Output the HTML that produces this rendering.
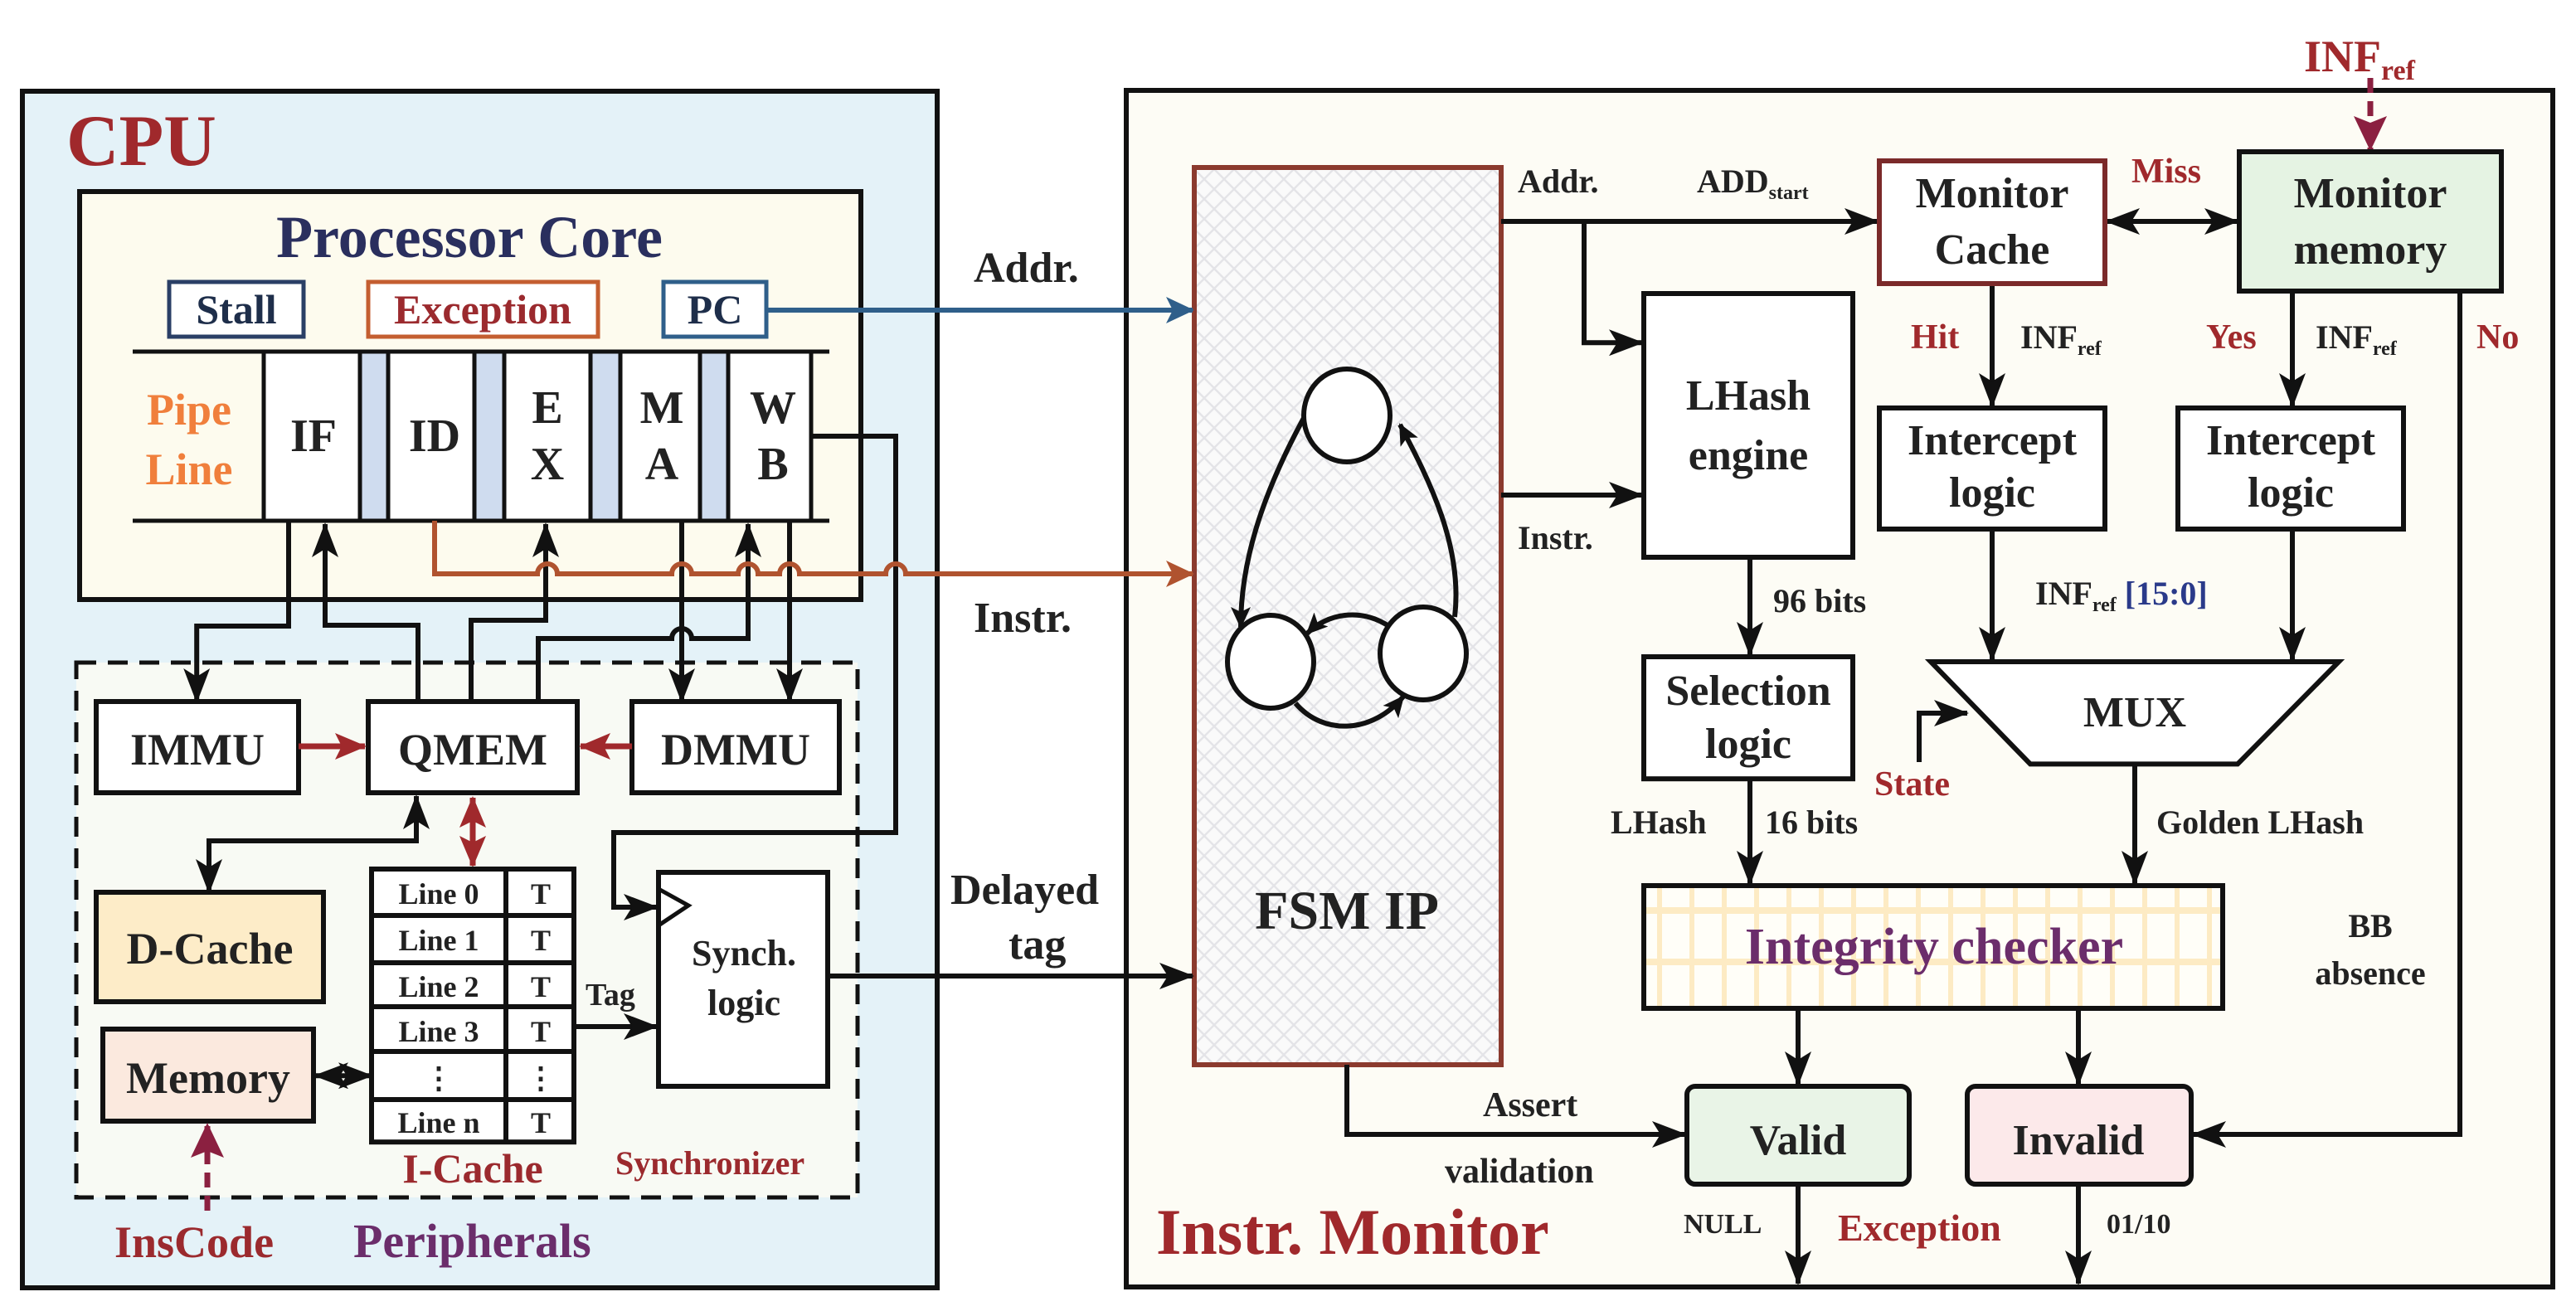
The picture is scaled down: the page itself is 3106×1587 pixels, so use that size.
<!DOCTYPE html>
<html><head><meta charset="utf-8"><style>
html,body{margin:0;padding:0;background:#fff;}
svg{display:block;}
text{font-family:"Liberation Serif",serif;font-weight:bold;}
</style></head><body>
<svg width="3106" height="1587" viewBox="0 0 1553 793.5" xmlns="http://www.w3.org/2000/svg">
<defs>
<marker id="a" markerUnits="userSpaceOnUse" markerWidth="22" markerHeight="16" refX="20" refY="8" orient="auto"><path d="M0,0 L21,8 L0,16 L5,8 Z" fill="#111"/></marker>
<marker id="as" markerUnits="userSpaceOnUse" markerWidth="22" markerHeight="16" refX="1" refY="8" orient="auto"><path d="M21,0 L0,8 L21,16 L16,8 Z" fill="#111"/></marker>
<marker id="ar" markerUnits="userSpaceOnUse" markerWidth="20" markerHeight="16" refX="18" refY="8" orient="auto"><path d="M0,0 L19,8 L0,16 L4,8 Z" fill="#a0292c"/></marker>
<marker id="ars" markerUnits="userSpaceOnUse" markerWidth="20" markerHeight="16" refX="1" refY="8" orient="auto"><path d="M19,0 L0,8 L19,16 L15,8 Z" fill="#a0292c"/></marker>
<marker id="ab" markerUnits="userSpaceOnUse" markerWidth="18" markerHeight="16" refX="16" refY="8" orient="auto"><path d="M0,0 L17,8 L0,16 L4,8 Z" fill="#2f5f8a"/></marker>
<marker id="ao" markerUnits="userSpaceOnUse" markerWidth="18" markerHeight="16" refX="16" refY="8" orient="auto"><path d="M0,0 L17,8 L0,16 L4,8 Z" fill="#b0532f"/></marker>
<marker id="ap" markerUnits="userSpaceOnUse" markerWidth="22" markerHeight="20" refX="20" refY="10" orient="auto"><path d="M0,0 L21,10 L0,20 L4,10 Z" fill="#8b2040"/></marker>
<marker id="sm" markerUnits="userSpaceOnUse" markerWidth="14" markerHeight="12" refX="12" refY="6" orient="auto"><path d="M0,0 L13,6 L0,12 L3,6 Z" fill="#111"/></marker>
<pattern id="hatch" width="12" height="12" patternUnits="userSpaceOnUse"><rect width="12" height="12" fill="#fafafa"/><path d="M0,6 L6,0 L12,6 L6,12 Z" fill="none" stroke="#e4e4e8" stroke-width="1.2"/></pattern>
<pattern id="grid" width="19.5" height="31" patternUnits="userSpaceOnUse" x="991" y="534"><rect width="19.5" height="31" fill="#fffef8"/><rect x="8" width="3" height="31" fill="#fdebc4"/><rect y="13" width="19.5" height="4" fill="#fdebc4"/></pattern>
</defs>

<!-- CPU -->
<rect x="13.5" y="55" width="551.5" height="721.5" fill="#e4f2f8" stroke="#111" stroke-width="3"/>
<text x="40" y="99.5" font-size="44" fill="#a0292c">CPU</text>
<rect x="48" y="115.5" width="471" height="246" fill="#fdfbee" stroke="#111" stroke-width="3"/>
<text x="283" y="155" font-size="36" fill="#2a2f5e" text-anchor="middle">Processor Core</text>
<rect x="102" y="170" width="81" height="33" fill="#fff" stroke="#2a3f66" stroke-width="2.5"/>
<text x="142.5" y="195" font-size="25" fill="#1e2e4a" text-anchor="middle">Stall</text>
<rect x="222" y="170" width="138.5" height="33" fill="#fff" stroke="#c45e30" stroke-width="2.5"/>
<text x="291" y="195" font-size="25" fill="#9b2a2e" text-anchor="middle">Exception</text>
<rect x="400" y="170" width="62" height="33" fill="#fff" stroke="#2f5f8a" stroke-width="2.5"/>
<text x="431" y="195" font-size="25" fill="#1e2e4a" text-anchor="middle">PC</text>

<!-- pipeline -->
<g stroke="#111" stroke-width="2.5">
<rect x="159" y="212" width="58" height="102" fill="#fff"/>
<rect x="217" y="212" width="17" height="102" fill="#cfdcef"/>
<rect x="234" y="212" width="52" height="102" fill="#fff"/>
<rect x="286" y="212" width="18" height="102" fill="#cfdcef"/>
<rect x="304" y="212" width="52" height="102" fill="#fff"/>
<rect x="356" y="212" width="18" height="102" fill="#cfdcef"/>
<rect x="374" y="212" width="48" height="102" fill="#fff"/>
<rect x="422" y="212" width="17" height="102" fill="#cfdcef"/>
<rect x="439" y="212" width="50" height="102" fill="#fff"/>
<line x1="80" y1="212" x2="500" y2="212"/>
<line x1="80" y1="314" x2="500" y2="314"/>
</g>
<text x="114" y="256" font-size="27" fill="#f07f3c" text-anchor="middle">Pipe</text>
<text x="114" y="292" font-size="27" fill="#f07f3c" text-anchor="middle">Line</text>
<g font-size="28" fill="#222" text-anchor="middle">
<text x="189" y="272">IF</text><text x="262" y="272">ID</text>
<text x="330" y="255">E</text><text x="330" y="289">X</text>
<text x="399" y="255">M</text><text x="399" y="289">A</text>
<text x="466" y="255">W</text><text x="466" y="289">B</text>
</g>

<!-- peripherals -->
<rect x="46" y="399.5" width="471" height="322.5" fill="#f8faf4" stroke="#111" stroke-width="2.5" stroke-dasharray="12,7"/>

<g fill="none" stroke="#111" stroke-width="3">
<path d="M174,314 V377.5 H118.6 V423" marker-end="url(#a)"/>
<path d="M252,423 V377 H196 V316" marker-end="url(#a)"/>
<path d="M284,423 V374 H329 V316" marker-end="url(#a)"/>
<path d="M324.5,423 V385 H405 a6,6 0 0 1 12,0 H451 V316" marker-end="url(#a)"/>
<path d="M411,314 V423" marker-end="url(#a)"/>
<path d="M476,314 V423" marker-end="url(#a)"/>
<path d="M489,263 H540 V502 H370 V547 H396" marker-end="url(#a)"/>
</g>

<g stroke="#111" stroke-width="3" fill="#fff">
<rect x="58" y="423" width="122" height="55"/>
<rect x="222" y="423" width="126" height="55"/>
<rect x="381" y="423" width="125" height="55"/>
<rect x="58" y="538" width="137" height="66" fill="#fdecc8"/>
<rect x="62" y="620.5" width="127" height="55.5" fill="#fbe9de"/>
<rect x="397" y="526" width="102" height="129"/>
</g>
<g font-size="27" fill="#222" text-anchor="middle">
<text x="119" y="461">IMMU</text><text x="285" y="461">QMEM</text><text x="443.5" y="461">DMMU</text>
<text x="126.5" y="581">D-Cache</text><text x="125.5" y="659">Memory</text>
</g>
<path d="M397,536 L415,546 L397,558" fill="none" stroke="#111" stroke-width="2.5"/>
<text x="448.5" y="582" font-size="22" fill="#222" text-anchor="middle">Synch.</text>
<text x="448.5" y="612" font-size="22" fill="#222" text-anchor="middle">logic</text>
<g stroke="#a0292c" stroke-width="3.5">
<line x1="180" y1="450" x2="220" y2="450" marker-end="url(#ar)"/>
<line x1="381" y1="450" x2="350" y2="450" marker-end="url(#ar)"/>
<line x1="285" y1="481" x2="285" y2="522" marker-start="url(#ars)" marker-end="url(#ar)"/>
</g>
<path d="M126,538 V507 H251 V480" fill="none" stroke="#111" stroke-width="3" marker-start="url(#as)" marker-end="url(#a)"/>
<line x1="190" y1="648.6" x2="224" y2="648.6" stroke="#111" stroke-width="3" marker-start="url(#as)" marker-end="url(#a)"/>
<line x1="125" y1="730" x2="125" y2="678" stroke="#8b2040" stroke-width="3.5" stroke-dasharray="9,5" marker-end="url(#ap)"/>

<!-- I-Cache -->
<g stroke="#111" stroke-width="3" fill="#fff">
<rect x="224" y="524" width="122" height="164.6"/>
<line x1="305" y1="524" x2="305" y2="688.6"/>
<line x1="224" y1="552" x2="346" y2="552"/><line x1="224" y1="580.5" x2="346" y2="580.5"/>
<line x1="224" y1="607" x2="346" y2="607"/><line x1="224" y1="634" x2="346" y2="634"/>
<line x1="224" y1="663" x2="346" y2="663"/>
</g>
<g font-size="18" fill="#222" text-anchor="middle">
<text x="264.5" y="545">Line 0</text><text x="326" y="545">T</text>
<text x="264.5" y="573">Line 1</text><text x="326" y="573">T</text>
<text x="264.5" y="601">Line 2</text><text x="326" y="601">T</text>
<text x="264.5" y="628">Line 3</text><text x="326" y="628">T</text>
<text x="264.5" y="656">⋮</text><text x="326" y="656">⋮</text>
<text x="264.5" y="683">Line n</text><text x="326" y="683">T</text>
</g>
<line x1="346" y1="619" x2="396" y2="619" stroke="#111" stroke-width="3" marker-end="url(#a)"/>
<text x="353" y="606" font-size="19" fill="#222">Tag</text>
<text x="285" y="713" font-size="25" fill="#9b2a2e" text-anchor="middle">I-Cache</text>
<text x="371" y="708" font-size="20" fill="#9b2a2e">Synchronizer</text>
<text x="69" y="758" font-size="27" fill="#9b2a2e">InsCode</text>
<text x="213" y="758" font-size="29" fill="#6b2d6b">Peripherals</text>

<g font-size="26" fill="#222">
<text x="587" y="170">Addr.</text>
<text x="587" y="381">Instr.</text>
<text x="573" y="545">Delayed</text>
<text x="608" y="578">tag</text>
</g>

<!-- Monitor -->
<rect x="679" y="54.5" width="860" height="721.5" fill="#fdfcf5" stroke="#111" stroke-width="3"/>
<rect x="720" y="101" width="185" height="541" fill="url(#hatch)" stroke="#8b3a2e" stroke-width="3"/>

<!-- cross connectors (drawn after monitor box) -->
<path d="M262,314 V346 H324 a6,6 0 0 1 12,0 H405 a6,6 0 0 1 12,0 H445 a6,6 0 0 1 12,0 H470 a6,6 0 0 1 12,0 H534 a6,6 0 0 1 12,0 H719" fill="none" stroke="#b0532f" stroke-width="3" marker-end="url(#ao)"/>
<path d="M462,187 H719" fill="none" stroke="#2f5f8a" stroke-width="3" marker-end="url(#ab)"/>
<line x1="499" y1="588.5" x2="719" y2="588.5" stroke="#111" stroke-width="3" marker-end="url(#a)"/>

<text x="812" y="560" font-size="33" fill="#222" text-anchor="middle">FSM IP</text>
<g fill="#fff" stroke="#111" stroke-width="3">
<ellipse cx="812" cy="250.5" rx="26" ry="28"/>
<ellipse cx="766" cy="399" rx="26" ry="28"/>
<ellipse cx="858" cy="394" rx="26" ry="28"/>
</g>
<g fill="none" stroke="#111" stroke-width="3">
<path d="M786,252 C760,300 748,340 748,378" marker-end="url(#sm)"/>
<path d="M877,372 C882,330 862,290 844,256" marker-end="url(#sm)"/>
<path d="M838,378 C820,366 800,370 788,382" marker-end="url(#sm)"/>
<path d="M781,424 C798,444 828,442 846,420" marker-end="url(#sm)"/>
</g>

<g fill="none" stroke="#111" stroke-width="3">
<path d="M905,133.5 H1132" marker-end="url(#a)"/>
<path d="M955,133.5 V206.6 H990" marker-end="url(#a)"/>
<path d="M905,298.5 H990" marker-end="url(#a)"/>
<path d="M1270,133.5 H1349" marker-start="url(#as)" marker-end="url(#a)"/>
<path d="M1201,171 V245" marker-end="url(#a)"/>
<path d="M1382,175.6 V245" marker-end="url(#a)"/>
<path d="M1201,319 V398" marker-end="url(#a)"/>
<path d="M1382,319 V398" marker-end="url(#a)"/>
<path d="M1055,336 V395" marker-end="url(#a)"/>
<path d="M1055,469.6 V533" marker-end="url(#a)"/>
<path d="M1287,460.7 V533" marker-end="url(#a)"/>
<path d="M1157,459.5 V430 H1186" marker-end="url(#a)"/>
<path d="M1084,608 V654" marker-end="url(#a)"/>
<path d="M1253,608 V654" marker-end="url(#a)"/>
<path d="M812,642 V684 H1016" marker-end="url(#a)"/>
<path d="M1483,175.6 V684 H1322" marker-end="url(#a)"/>
<path d="M1084,714 V774" marker-end="url(#a)"/>
<path d="M1253,714 V774" marker-end="url(#a)"/>
</g>
<line x1="1429" y1="47" x2="1429" y2="90" stroke="#8b2040" stroke-width="3.5" stroke-dasharray="9,5" marker-end="url(#ap)"/>

<g stroke="#111" stroke-width="3" fill="#fff">
<rect x="991" y="177" width="126" height="159"/>
<rect x="1133" y="97" width="136" height="74" stroke="#7b2a2a"/>
<rect x="1350" y="91.5" width="158" height="84" fill="#e5f3e3"/>
<rect x="1133" y="246" width="136" height="73"/>
<rect x="1313" y="246" width="136" height="73"/>
<rect x="991" y="396" width="126" height="73.6"/>
<path d="M1164,399 H1410 L1349,460.7 H1224 Z"/>
<rect x="991" y="534" width="349" height="74" fill="url(#grid)"/>
<rect x="1017" y="655" width="134" height="59" rx="5" fill="#e9f4e7"/>
<rect x="1186" y="655" width="135" height="59" rx="5" fill="#fce9ea"/>
</g>
<g font-size="26" fill="#222" text-anchor="middle">
<text x="1054" y="247">LHash</text><text x="1054" y="283">engine</text>
<text x="1201" y="125">Monitor</text><text x="1201" y="159">Cache</text>
<text x="1429" y="125">Monitor</text><text x="1429" y="159">memory</text>
<text x="1201" y="274">Intercept</text><text x="1201" y="305.6">logic</text>
<text x="1381" y="274">Intercept</text><text x="1381" y="305.6">logic</text>
<text x="1054" y="425">Selection</text><text x="1054" y="457">logic</text>
<text x="1287" y="438">MUX</text>
<text x="1084" y="696">Valid</text><text x="1253" y="696">Invalid</text>
</g>
<text x="1166" y="581" font-size="31" fill="#6b2d6b" text-anchor="middle">Integrity checker</text>

<g font-size="20" fill="#222">
<text x="915" y="116">Addr.</text>
<text x="1023" y="116">ADD<tspan font-size="12" dy="4">start</tspan></text>
<text x="1218" y="210">INF<tspan font-size="12" dy="4">ref</tspan></text>
<text x="1396" y="210">INF<tspan font-size="12" dy="4">ref</tspan></text>
<text x="1227" y="364.5">INF<tspan font-size="12" dy="4">ref</tspan><tspan dy="-4" fill="#2a3a8a"> [15:0]</tspan></text>
<text x="915" y="331">Instr.</text>
<text x="1069" y="369">96 bits</text>
<text x="971" y="502.6">LHash</text>
<text x="1064" y="502.6">16 bits</text>
<text x="1300" y="502.6">Golden LHash</text>
<text x="1429" y="565" text-anchor="middle">BB</text>
<text x="1429" y="593.5" text-anchor="middle">absence</text>
<text x="1015" y="743.5" font-size="17">NULL</text>
<text x="1270" y="743.5" font-size="17">01/10</text>
</g>
<g font-size="21" fill="#222">
<text x="894" y="673">Assert</text>
<text x="871" y="713">validation</text>
</g>
<g fill="#a0292c" font-size="21">
<text x="1285" y="110">Miss</text>
<text x="1152" y="210">Hit</text>
<text x="1330" y="210">Yes</text>
<text x="1493" y="210">No</text>
<text x="1130" y="479.5">State</text>
<text x="1108" y="748" font-size="23">Exception</text>
<text x="1389" y="43" font-size="27">INF<tspan font-size="17" dy="5">ref</tspan></text>
<text x="697" y="756" font-size="39">Instr. Monitor</text>
</g>
</svg>
</body></html>
